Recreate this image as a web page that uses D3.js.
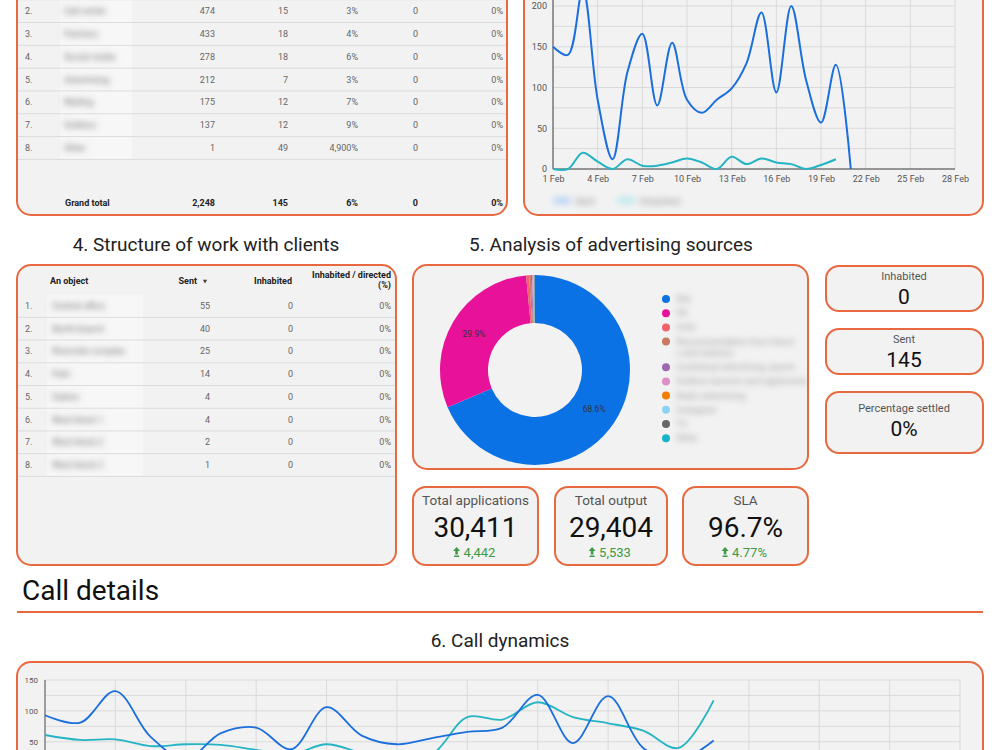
<!DOCTYPE html>
<html>
<head>
<meta charset="utf-8">
<title>Report dashboard</title>
<style>
  body { margin: 0; background: #fff; }
  svg { display: block; }
  text { font-family: Roboto, "Noto Sans", sans-serif; }
  .card { fill: #f2f2f2; stroke: #e8693f; stroke-width: 2; }
  .cell { fill: #666; font-size: 9px; }
  .bold { fill: #222; font-weight: bold; font-size: 9px; }
  .sep { stroke: #dcdcdc; stroke-width: 1; }
  .grid { stroke: #dadada; stroke-width: 1; }
  .axis text { fill: #555; font-family: Roboto, sans-serif; }
  .axis path, .axis line { display: none; }
  .title { fill: #222; font-size: 19px; }
  .kpiLabel { fill: #555; }
  .kpiValue { fill: #111; }
  .delta { fill: #3d9a46; }
</style>
</head>
<body>
<svg width="1000" height="750"></svg>
<script src="https://cdn.jsdelivr.net/npm/d3@7/dist/d3.min.js"></script>
<script>
// --- table 3 (top left), first row sits above the visible area
var sourceNames = ['Website order', 'Call center', 'Partners', 'Social media', 'Advertising', 'Mailing', 'Outdoor', 'Other'];
var sourceApps = [538, 474, 433, 278, 212, 175, 137, 1];
var sourceSent = [14, 15, 18, 18, 7, 12, 12, 49];
var sourceSettled = [0, 0, 0, 0, 0, 0, 0, 0];

// --- daily dynamics, February (top right)
var febTicks = [1, 4, 7, 10, 13, 16, 19, 22, 25, 28];
var febSent = [150, 140, 220, 85, 12, 119, 166, 78, 155, 85, 69, 85, 99, 130, 192, 94, 200, 109, 57, 128, 0];
var febSettled = [0, 0, 20, 9, 0, 12, 4, 4, 8, 13, 8, 0, 15, 6, 13, 8, 6, 0, 5, 12];
var febLegend = ['Sent', 'Inhabited'];

// --- table 4
var objectNames = ['Central office', 'North branch', 'Riverside complex', 'Park', 'Harbor', 'West block 1', 'West block 2', 'West block 3'];
var objectSent = [55, 40, 25, 14, 4, 4, 2, 1];
var objectSettled = [0, 0, 0, 0, 0, 0, 0, 0];

// --- advertising sources (donut)
var adNames = ['Site', 'VK', 'Avito', 'Recommendation from friends and relatives', 'Contextual advertising search', 'Outdoor banners and signboards', 'Radio advertising', 'Instagram', 'TV', 'Other'];
var adShares = [68.6, 29.9, 0.5, 0.3, 0.2, 0.15, 0.1, 0.1, 0.1, 0.05];
var adColors = ['#0b72e6', '#e8129a', '#f0636b', '#c97a62', '#9c69b1', '#df8dc6', '#f57c00', '#8dd3f6', '#666666', '#14b5c8'];

// --- scorecards
var sideLabels = ['Inhabited', 'Sent', 'Percentage settled'];
var sideValues = ['0', '145', '0%'];
var kpiLabels = ['Total applications', 'Total output', 'SLA'];
var kpiValues = ['30,411', '29,404', '96.7%'];
var kpiDeltas = ['4,442', '5,533', '4.77%'];

// --- call dynamics (bottom)
var callTicks = d3.range(0, 27, 2);
var callsIn = [93, 81, 132, 58, 22, 64, 73, 38, 106, 60, 46, 56, 66, 73, 126, 48, 124, 40, 20, 52];
var callsOut = [61, 53, 54, 43, 46, 45, 37, 30, 46, 32, 22, 30, 90, 86, 114, 90, 80, 68, 40, 117];

var blue = '#1b6fdc', cyan = '#24b4c4';
var fmtInt = d3.format(','), fmtPct = d3.format(',.0%');

var svg = d3.select('svg');
var defs = svg.append('defs');
defs.append('filter').attr('id', 'blur')
    .attr('x', '-30%').attr('y', '-100%').attr('width', '160%').attr('height', '300%')
  .append('feGaussianBlur').attr('stdDeviation', 3);

function card(x, y, w, h, r) {
  return svg.append('rect').attr('class', 'card')
    .attr('x', x).attr('y', y).attr('width', w).attr('height', h).attr('rx', r || 14);
}

function cellText(g, x, y, txt, anchor, cls) {
  return g.append('text').attr('class', cls || 'cell')
    .attr('x', x).attr('y', y)
    .attr('text-anchor', anchor || 'end')
    .attr('dominant-baseline', 'central')
    .text(txt);
}

// ================= top left table =================
card(17, -40, 490, 255);
var t1 = svg.append('g');
var t1Y = d3.scaleLinear().domain([0, 7]).range([-11.7, 148]);
var t1Step = t1Y(1) - t1Y(0);
t1.append('rect').attr('x', 60).attr('y', 0).attr('width', 72)
  .attr('height', t1Y(7) + t1Step / 2).attr('fill', '#f7f7f7');
sourceApps.forEach(function(v, i) {
  var y = t1Y(i);
  t1.append('line').attr('class', 'sep').attr('x1', 18).attr('x2', 506)
    .attr('y1', y + t1Step / 2).attr('y2', y + t1Step / 2);
  if (y < 0) return; // row scrolled above the visible area
  cellText(t1, 25, y, (i + 1) + '.', 'start');
  cellText(t1, 64, y, sourceNames[i], 'start').attr('fill', '#888').attr('font-size', 10).attr('filter', 'url(#blur)');
  cellText(t1, 215, y, fmtInt(v));
  cellText(t1, 288, y, fmtInt(sourceSent[i]));
  cellText(t1, 358, y, fmtPct(sourceSent[i] / v));
  cellText(t1, 418, y, fmtInt(sourceSettled[i]));
  cellText(t1, 503, y, fmtPct(sourceSettled[i] / sourceSent[i]));
});
var totApps = d3.sum(sourceApps), totSent = d3.sum(sourceSent), totSet = d3.sum(sourceSettled);
cellText(t1, 65, 203, 'Grand total', 'start', 'bold');
cellText(t1, 215, 203, fmtInt(totApps), 'end', 'bold');
cellText(t1, 288, 203, fmtInt(totSent), 'end', 'bold');
cellText(t1, 358, 203, fmtPct(totSent / totApps), 'end', 'bold');
cellText(t1, 418, 203, fmtInt(totSet), 'end', 'bold');
cellText(t1, 503, 203, fmtPct(totSet / totSent), 'end', 'bold');

// ================= top right line chart =================
card(524, -40, 459, 255);
var fx = d3.scaleLinear().domain([1, 28]).range([553, 955]);
var fy = d3.scaleLinear().domain([0, 250]).range([169, 169 - 250 * 0.815]);
var g2 = svg.append('g');
g2.selectAll('.hg').data(d3.range(0, 251, 25)).join('line').attr('class', 'grid')
  .attr('x1', fx(1)).attr('x2', fx(28)).attr('y1', fy).attr('y2', fy);
g2.selectAll('.vg').data(febTicks).join('line').attr('class', 'grid')
  .attr('x1', fx).attr('x2', fx).attr('y1', fy(250)).attr('y2', fy(0));
g2.append('g').attr('class', 'axis').attr('transform', 'translate(' + fx(1) + ',0)')
  .call(d3.axisLeft(fy).tickValues(d3.range(0, 201, 50)).tickSize(0).tickPadding(6))
  .selectAll('text').style('font-size', '9px');
g2.append('g').attr('class', 'axis').attr('transform', 'translate(0,' + fy(0) + ')')
  .call(d3.axisBottom(fx).tickValues(febTicks).tickSize(0).tickPadding(7).tickFormat(function(d) { return d + ' Feb'; }))
  .selectAll('text').style('font-size', '9px');
g2.append('line').attr('stroke', '#444').attr('x1', fx(1)).attr('x2', fx(1)).attr('y1', fy(250)).attr('y2', fy(0));
g2.append('line').attr('stroke', '#444').attr('x1', fx(1)).attr('x2', fx(28)).attr('y1', fy(0)).attr('y2', fy(0));
var febLine = d3.line().x(function(d, i) { return fx(i + 1); }).y(function(d) { return fy(d); })
  .curve(d3.curveCatmullRom.alpha(0.5));
g2.append('path').attr('d', febLine(febSettled)).attr('fill', 'none').attr('stroke', cyan).attr('stroke-width', 2);
g2.append('path').attr('d', febLine(febSent)).attr('fill', 'none').attr('stroke', blue).attr('stroke-width', 2);
// blurred legend
var lg2 = g2.append('g').attr('filter', 'url(#blur)');
[[553, '#bcd5f5', febLegend[0]], [617, '#bfe9ee', febLegend[1]]].forEach(function(l) {
  lg2.append('rect').attr('x', l[0]).attr('y', 197).attr('width', 18).attr('height', 7).attr('rx', 3).attr('fill', l[1]);
  lg2.append('text').attr('x', l[0] + 22).attr('y', 201).attr('dominant-baseline', 'central')
    .attr('font-size', 10).attr('fill', '#999').text(l[2]);
});

// ================= section titles =================
svg.append('text').attr('class', 'title').attr('x', 206).attr('y', 251).attr('text-anchor', 'middle')
  .text('4. Structure of work with clients');
svg.append('text').attr('class', 'title').attr('x', 611).attr('y', 251).attr('text-anchor', 'middle')
  .text('5. Analysis of advertising sources');

// ================= table 4 =================
card(17, 265, 379, 300);
var t4 = svg.append('g');
var t4Y = d3.scaleLinear().domain([0, 7]).range([306, 465]);
var t4Step = t4Y(1) - t4Y(0);
cellText(t4, 50, 281, 'An object', 'start', 'bold');
cellText(t4, 197, 281, 'Sent', 'end', 'bold');
t4.append('path').attr('d', d3.symbol(d3.symbolTriangle, 8)()).attr('fill', '#444')
  .attr('transform', 'translate(205,281) rotate(180)');
cellText(t4, 292, 281, 'Inhabited', 'end', 'bold');
cellText(t4, 391, 275, 'Inhabited / directed', 'end', 'bold');
cellText(t4, 391, 285, '(%)', 'end', 'bold');
t4.append('rect').attr('x', 47).attr('y', t4Y(0) - t4Step / 2).attr('width', 96)
  .attr('height', t4Step * 8).attr('fill', '#f7f7f7');
objectSent.forEach(function(v, i) {
  var y = t4Y(i);
  t4.append('line').attr('class', 'sep').attr('x1', 18).attr('x2', 395)
    .attr('y1', y + t4Step / 2).attr('y2', y + t4Step / 2);
  cellText(t4, 25, y, (i + 1) + '.', 'start');
  cellText(t4, 52, y, objectNames[i], 'start').attr('fill', '#888').attr('font-size', 10).attr('filter', 'url(#blur)');
  cellText(t4, 210, y, fmtInt(v));
  cellText(t4, 293, y, fmtInt(objectSettled[i]));
  cellText(t4, 391, y, fmtPct(objectSettled[i] / v));
});

// ================= donut =================
card(413, 265, 395, 204);
var pie = d3.pie().sort(null).value(function(d) { return d; });
var arc = d3.arc().innerRadius(47).outerRadius(95);
var labelArc = d3.arc().innerRadius(71).outerRadius(71);
var dg = svg.append('g').attr('transform', 'translate(535,370)');
var slices = pie(adShares);
dg.selectAll('path').data(slices).join('path')
  .attr('d', arc).attr('fill', function(d, i) { return adColors[i]; });
dg.selectAll('text').data(slices.filter(function(d) { return d.value > 5; })).join('text')
  .attr('transform', function(d) { return 'translate(' + labelArc.centroid(d) + ')'; })
  .attr('text-anchor', 'middle').attr('dominant-baseline', 'central')
  .attr('font-size', 8.5).attr('fill', '#333')
  .text(function(d) { return d.value.toFixed(1) + '%'; });
// legend
var legY = 299;
adNames.forEach(function(name, i) {
  var twoLines = name.length > 32;
  svg.append('circle').attr('cx', 666).attr('cy', legY).attr('r', 4).attr('fill', adColors[i]);
  var lt = svg.append('text').attr('x', 676).attr('y', legY).attr('dominant-baseline', 'central')
    .attr('font-size', 9).attr('fill', '#999').attr('filter', 'url(#blur)');
  if (twoLines) {
    lt.append('tspan').attr('x', 676).text(name.slice(0, 26));
    lt.append('tspan').attr('x', 676).attr('dy', 11).text(name.slice(26));
  } else {
    lt.text(name);
  }
  legY += twoLines ? 25.6 : 14.2;
});

// ================= side scorecards =================
var sideTop = [266, 329, 392], sideH = [45, 45, 61];
sideLabels.forEach(function(lbl, i) {
  card(826, sideTop[i], 157, sideH[i], 13);
  var ly = sideTop[i] + (i === 2 ? 16 : 10);
  svg.append('text').attr('class', 'kpiLabel').attr('x', 904).attr('y', ly)
    .attr('text-anchor', 'middle').attr('dominant-baseline', 'central').attr('font-size', 11).text(lbl);
  svg.append('text').attr('class', 'kpiValue').attr('x', 904).attr('y', ly + 21)
    .attr('text-anchor', 'middle').attr('dominant-baseline', 'central').attr('font-size', 21).text(sideValues[i]);
});

// ================= bottom scorecards =================
var kpiX = [413, 555, 683], kpiW = [125, 112, 125];
kpiLabels.forEach(function(lbl, i) {
  card(kpiX[i], 487, kpiW[i], 78, 13);
  var cx = kpiX[i] + kpiW[i] / 2;
  svg.append('text').attr('class', 'kpiLabel').attr('x', cx).attr('y', 500)
    .attr('text-anchor', 'middle').attr('dominant-baseline', 'central').attr('font-size', 13.5).text(lbl);
  svg.append('text').attr('class', 'kpiValue').attr('x', cx).attr('y', 527)
    .attr('text-anchor', 'middle').attr('dominant-baseline', 'central').attr('font-size', 28).text(kpiValues[i]);
  var dgp = svg.append('g').attr('transform', 'translate(' + (cx + 4) + ',552)');
  var dt = dgp.append('text').attr('class', 'delta').attr('x', 0).attr('y', 0)
    .attr('text-anchor', 'middle').attr('dominant-baseline', 'central').attr('font-size', 13).text(kpiDeltas[i]);
  var w = dt.node().getComputedTextLength();
  dgp.append('path').attr('class', 'delta')
    .attr('transform', 'translate(' + (-w / 2 - 7) + ',0)')
    .attr('d', 'M0,-5 L3.5,-1 L1.3,-1 L1.3,2.5 L-1.3,2.5 L-1.3,-1 L-3.5,-1 Z M-2.5,3.5 L2.5,3.5 L2.5,5 L-2.5,5 Z');
});

// ================= call details =================
svg.append('text').attr('x', 22).attr('y', 600).attr('font-size', 28).attr('fill', '#111').text('Call details');
svg.append('line').attr('x1', 17).attr('x2', 983).attr('y1', 612).attr('y2', 612)
  .attr('stroke', '#e8693f').attr('stroke-width', 2);
svg.append('text').attr('class', 'title').attr('x', 500).attr('y', 647).attr('text-anchor', 'middle')
  .text('6. Call dynamics');

card(17, 662, 966, 160);
var cx6 = d3.scaleLinear().domain([0, 26]).range([45, 960]);
var cy6 = d3.scaleLinear().domain([0, 150]).range([772.7, 680]);
var g6 = svg.append('g');
g6.selectAll('.hg').data(d3.range(0, 151, 25)).join('line').attr('class', 'grid')
  .attr('x1', cx6(0)).attr('x2', cx6(26)).attr('y1', cy6).attr('y2', cy6);
g6.selectAll('.vg').data(callTicks).join('line').attr('class', 'grid')
  .attr('x1', cx6).attr('x2', cx6).attr('y1', cy6(150)).attr('y2', cy6(0));
g6.append('g').attr('class', 'axis').attr('transform', 'translate(' + cx6(0) + ',0)')
  .call(d3.axisLeft(cy6).tickValues([50, 100, 150]).tickSize(0).tickPadding(7))
  .selectAll('text').style('font-size', '8px');
g6.append('line').attr('stroke', '#555').attr('x1', cx6(0)).attr('x2', cx6(0)).attr('y1', cy6(150)).attr('y2', cy6(0));
var callLine = d3.line().x(function(d, i) { return cx6(i); }).y(function(d) { return cy6(d); })
  .curve(d3.curveCatmullRom.alpha(0.5));
g6.append('path').attr('d', callLine(callsOut)).attr('fill', 'none').attr('stroke', cyan).attr('stroke-width', 1.8);
g6.append('path').attr('d', callLine(callsIn)).attr('fill', 'none').attr('stroke', blue).attr('stroke-width', 1.8);
</script>
</body>
</html>
